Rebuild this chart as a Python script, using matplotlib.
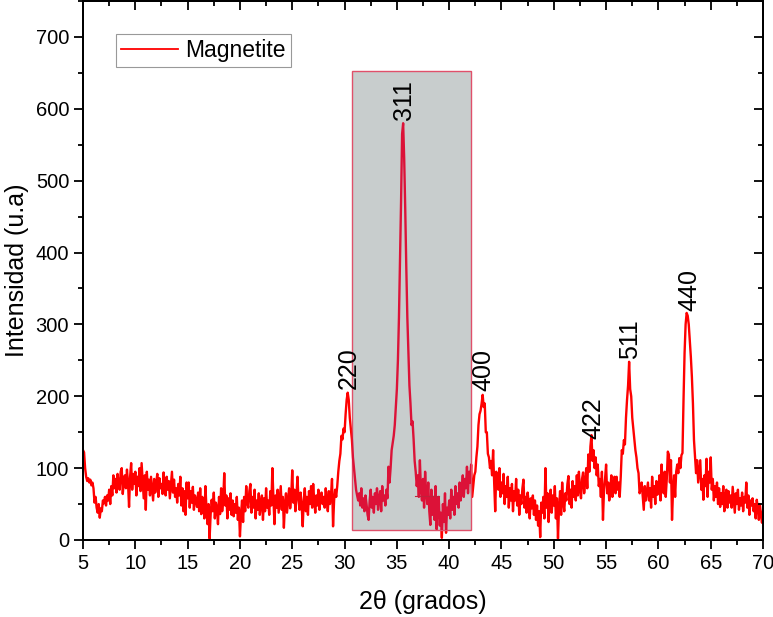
import numpy as np
import matplotlib.pyplot as plt
from matplotlib.patches import Rectangle
from matplotlib.ticker import MultipleLocator

plt.rcParams['font.family'] = ['Liberation Sans', 'DejaVu Sans']

# 2theta from 5 to 70 in steps of 0.1, intensities
two_theta = np.round(np.arange(5.0, 70.05, 0.1), 1)
intensity = [
    125, 122, 100, 88, 82, 86, 80, 84, 76, 80,      # 5
    72, 52, 60, 45, 38, 50, 31, 44, 40, 55,         # 6
    51, 60, 48, 62, 55, 70, 50, 75, 62, 90,         # 7
    72, 85, 66, 92, 78, 70, 95, 100, 64, 82,        # 8
    90, 72, 98, 80, 46, 88, 107, 70, 92, 78,        # 9
    95, 62, 88, 75, 100, 68, 107, 82, 58, 90,       # 10
    42, 95, 70, 84, 62, 88, 72, 55, 85, 66,         # 11
    80, 92, 60, 86, 72, 78, 64, 94, 75, 62,         # 12
    88, 70, 82, 58, 76, 95, 66, 84, 60, 72,         # 13
    52, 78, 62, 88, 48, 72, 40, 68, 35, 80,         # 14
    58, 80, 45, 68, 52, 74, 42, 62, 55, 46,         # 15
    66, 40, 72, 36, 60, 50, 30, 75, 44, 22,         # 16
    50, 2, 36, 56, 40, 66, 30, 52, 45, 22,          # 17
    60, 36, 72, 40, 55, 93, 48, 62, 30, 58,         # 18
    42, 65, 35, 55, 33, 50, 38, 60, 28, 45,         # 19
    5, 35, 55, 25, 60, 40, 75, 52, 45, 68,          # 20
    78, 38, 60, 45, 70, 30, 55, 42, 65, 35,         # 21
    50, 62, 28, 58, 40, 72, 45, 55, 35, 68,         # 22
    48, 100, 58, 22, 62, 45, 70, 38, 56, 75,        # 23
    42, 60, 17, 50, 65, 38, 55, 72, 44, 60,         # 24
    97, 52, 70, 40, 62, 88, 55, 42, 66, 48,         # 25
    19, 55, 72, 40, 60, 35, 68, 50, 75, 45,         # 26
    78, 55, 38, 62, 48, 70, 42, 58, 66, 50,         # 27
    60, 45, 72, 55, 40, 68, 50, 62, 85, 19,         # 28
    55, 70, 60, 75, 95, 110, 120, 145, 140, 155,    # 29
    150, 175, 195, 205, 195, 170, 155, 140, 115, 100,  # 30
    85, 70, 62, 55, 65, 48, 72, 45, 58, 40,         # 31
    62, 50, 35, 28, 55, 70, 45, 60, 38, 65,         # 32
    50, 72, 42, 58, 68, 40, 75, 55, 62, 48,         # 33
    70, 58, 102, 80, 100, 125, 135, 145, 160, 185,  # 34
    210, 250, 310, 390, 470, 565, 580, 530, 460, 380,  # 35
    310, 260, 215, 190, 160, 165, 140, 110, 95, 75,    # 36
    90, 60, 111, 70, 55, 85, 45, 95, 65, 50,        # 37
    80, 40, 21, 70, 35, 60, 28, 75, 15, 45,         # 38
    60, 20, 38, 3, 50, 25, 65, 10, 45, 35,          # 39
    55, 30, 70, 42, 60, 35, 75, 50, 65, 45,         # 40
    80, 55, 70, 90, 60, 85, 72, 102, 65, 95,        # 41
    80, 105, 60, 75, 90, 95, 115, 130, 160, 175,    # 42
    180, 190, 202, 185, 190, 150, 150, 120, 115, 100,  # 43
    110, 90, 125, 80, 40, 95, 85, 70, 100, 60,      # 44
    80, 65, 92, 50, 75, 60, 88, 45, 72, 55,         # 45
    78, 40, 68, 55, 85, 48, 70, 35, 62, 50,         # 46
    72, 84, 45, 60, 38, 66, 52, 30, 58, 44,         # 47
    62, 35, 55, 28, 48, 20, 40, 4, 52, 38,          # 48
    60, 30, 100, 45, 65, 25, 55, 70, 38, 62,        # 49
    48, 75, 30, 58, 2, 45, 68, 35, 80, 52,          # 50
    40, 65, 55, 78, 89, 50, 70, 45, 82, 60,         # 51
    75, 55, 90, 62, 95, 70, 58, 85, 94, 65,         # 52
    80, 100, 72, 119, 95, 130, 146, 110, 125, 100,  # 53
    115, 90, 105, 75, 85, 60, 95, 28, 70, 85,       # 54
    105, 65, 80, 55, 70, 90, 60, 75, 88, 65,        # 55
    88, 70, 80, 60, 88, 125, 120, 139, 133, 170,    # 56
    195, 215, 248, 210, 200, 170, 155, 140, 125, 115,  # 57
    100, 93, 65, 70, 80, 60, 42, 75, 55, 68,        # 58
    80, 55, 72, 45, 88, 60, 75, 50, 82, 63,         # 59
    70, 90, 55, 105, 78, 65, 95, 60, 85, 123,       # 60
    119, 80, 111, 28, 70, 90, 60, 95, 105, 93,      # 61
    114, 100, 118, 121, 195, 260, 300, 316, 312, 300,  # 62
    278, 255, 227, 190, 139, 115, 93, 111, 80, 95,  # 63
    111, 70, 85, 56, 90, 75, 113, 60, 95, 80,       # 64
    115, 70, 85, 55, 75, 60, 80, 50, 72, 46,        # 65
    65, 50, 75, 40, 60, 70, 45, 68, 52, 62,         # 66
    45, 74, 55, 38, 65, 50, 70, 42, 58, 48,         # 67
    66, 40, 60, 52, 80, 45, 62, 35, 55, 48,         # 68
    58, 40, 50, 30, 56, 45, 28, 50, 35, 24,         # 69
    40,                                             # 70
]

peak_labels = ['220', '311', '400', '422', '511', '440']
peak_x = [30.4, 35.65, 43.25, 53.75, 57.3, 62.95]
peak_y = [210, 585, 207, 140, 252, 318]

# highlighted region around the (311) reflection
box_x = [30.7, 42.1]
box_y = [14, 653]
base_x = [36.75, 39.0]
base_y = [61, 61]

fig = plt.figure(figsize=(7.73, 6.17), dpi=100)
ax = fig.add_axes([0.1074, 0.1248, 0.8797, 0.8735])

ax.plot(two_theta, intensity, color='#ff0000', lw=1.7, label='Magnetite', zorder=2)

rect = Rectangle((box_x[0], box_y[0]), box_x[1] - box_x[0], box_y[1] - box_y[0],
                 facecolor='#c8cdcd', edgecolor='#e0506a', lw=1.0, zorder=3)
ax.add_patch(rect)
inner, = ax.plot(two_theta, intensity, color='#dc1238', lw=1.7, zorder=4)
inner.set_clip_path(rect)
ax.plot(base_x, base_y, color='#c0203a', lw=0.8, zorder=4)

for lab, px, py in zip(peak_labels, peak_x, peak_y):
    ax.text(px, py, lab, rotation=90, ha='center', va='bottom', fontsize=18, zorder=5)

ax.set_xlim(5, 70)
ax.set_ylim(0, 750)

# bottom/left ticks point out, top/right ticks point in
axt = ax.twiny()
axr = ax.twinx()
axt.set_xlim(ax.get_xlim())
axr.set_ylim(ax.get_ylim())
for a in (ax, axt):
    a.xaxis.set_major_locator(MultipleLocator(5))
    a.xaxis.set_minor_locator(MultipleLocator(2.5))
for a in (ax, axr):
    a.yaxis.set_major_locator(MultipleLocator(100))
    a.yaxis.set_minor_locator(MultipleLocator(50))

ax.tick_params(which='both', direction='out', labelsize=14.5, width=1.3)
axt.tick_params(axis='x', which='both', direction='in', labeltop=False, width=1.3)
axr.tick_params(axis='y', which='both', direction='in', labelright=False, width=1.3)
for a in (ax, axt, axr):
    a.tick_params(which='major', length=6.5)
    a.tick_params(which='minor', length=3.5)
    for s in a.spines.values():
        s.set_linewidth(1.3)

ax.set_xlabel('2θ (grados)', fontsize=18, labelpad=12)
ax.set_ylabel('Intensidad (u.a)', fontsize=18, labelpad=5)

leg = ax.legend(loc='upper left', bbox_to_anchor=(0.0485, 0.939), borderaxespad=0,
                fontsize=16.5, frameon=True, fancybox=False, edgecolor='#808080',
                handlelength=2.5, borderpad=0.22, handletextpad=0.3)
leg.get_frame().set_linewidth(0.8)
leg.get_lines()[0].set_linewidth(1.3)

fig.savefig('out.png', dpi=100)
